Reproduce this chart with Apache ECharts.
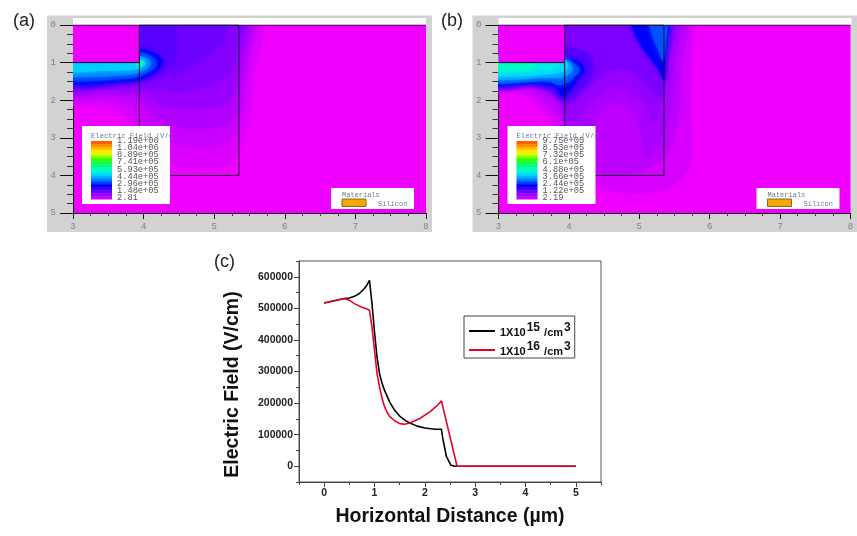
<!DOCTYPE html>
<html>
<head>
<meta charset="utf-8">
<title>Electric field</title>
<script src="https://cdn.jsdelivr.net/npm/echarts@6/dist/echarts.min.js"></script>
<style>
html, body { margin: 0; padding: 0; background: #fff; }
#chart { width: 857px; height: 536px; }
</style>
</head>
<body>
<div id="chart"></div>
<script>
/************* panel (c) data **************/
var seriesNames = ['1X10^15 /cm^3', '1X10^16 /cm^3'];
var blackX = [0, 0.2, 0.4, 0.5, 0.6, 0.7, 0.8, 0.85, 0.9, 0.95, 1.0, 1.05, 1.1, 1.15, 1.2, 1.3, 1.4, 1.5, 1.6, 1.7, 1.85, 2.0, 2.2, 2.33, 2.36, 2.43, 2.52, 2.6, 3, 4, 5];
var blackY = [517000, 524000, 531000, 533000, 538000, 547000, 563000, 574000, 589000, 515000, 425000, 346000, 293000, 263000, 240000, 204000, 177000, 159000, 146000, 137000, 127000, 121000, 117000, 117000, 85000, 30000, 3000, 0, 0, 0, 0];
var redX = [0, 0.2, 0.4, 0.5, 0.6, 0.7, 0.85, 0.9, 0.95, 1.0, 1.05, 1.1, 1.15, 1.2, 1.25, 1.3, 1.4, 1.5, 1.6, 1.7, 1.9, 2.1, 2.23, 2.33, 2.64, 3, 4, 5];
var redY = [517000, 524000, 531000, 526000, 515000, 507000, 498000, 494000, 441000, 367000, 293000, 251000, 215000, 188000, 171000, 158000, 144000, 135000, 133000, 137000, 151000, 172000, 190000, 207000, 0, 0, 0, 0];
var cTickX = [0, 1, 2, 3, 4, 5];
var cMinorX = [-0.5, 0.5, 1.5, 2.5, 3.5, 4.5, 5.5];
var cTickY = [0, 100000, 200000, 300000, 400000, 500000, 600000];
var cMinorY = [-50000, 50000, 150000, 250000, 350000, 450000, 550000, 650000];

/************* panels (a) (b) data **************/
var aLegendLabels = ['1.19e+06', '1.04e+06', '8.89e+05', '7.41e+05', '5.93e+05', '4.44e+05', '2.96e+05', '1.48e+05', '2.81'];
var bLegendLabels = ['9.75e+05', '8.53e+05', '7.32e+05', '6.1e+05', '4.88e+05', '3.66e+05', '2.44e+05', '1.22e+05', '2.19'];
var aFieldMax = 1190000;
var bFieldMax = 975000;

// structure outline, um
var outlineTop = [[3, 0], [8, 0]];
var outlineStep = [[3, 1], [3.94, 1]];
var outlineBox = [[3.94, 0], [5.35, 0], [5.35, 4], [3.94, 4], [3.94, 0]];
// oxide corner, stays at the background level
var oxideCorner = [[3, -0.3], [3.94, -0.3], [3.94, 1], [3, 1]];

// contour levels, V/cm, and their outlines in um
var aContourValues = [30000, 60000, 90000, 120000, 145000, 170000, 195000, 296000, 350000, 420000, 500000, 650000];
var aContourShapes = [
    [[2.8, 2.0], [3.4, 2.15], [3.8, 2.5], [3.94, 2.9], [4.1, 3.4], [4.6, 3.8], [5.2, 3.7], [5.45, 2.8], [5.55, 1.5], [5.58, -0.3], [2.8, -0.3]],
    [[2.8, 1.9], [3.5, 2.0], [3.9, 2.3], [4.1, 2.9], [4.6, 3.2], [5.2, 3.1], [5.4, 2.2], [5.48, 1], [5.5, -0.3], [2.8, -0.3]],
    [[2.8, 1.78], [3.5, 1.85], [3.94, 2.0], [4.2, 2.5], [4.7, 2.75], [5.25, 2.5], [5.38, 1.5], [5.42, -0.3], [2.8, -0.3]],
    [[2.8, 1.68], [3.5, 1.72], [3.94, 1.8], [4.3, 2.15], [4.8, 2.2], [5.2, 2.0], [5.36, 1.0], [5.38, -0.3], [2.8, -0.3]],
    [[2.8, 1.6], [3.6, 1.62], [4.0, 1.65], [4.4, 1.75], [4.85, 1.65], [5.15, 1.35], [5.3, 0.8], [5.35, -0.3], [2.8, -0.3]],
    [[2.8, 1.55], [3.94, 1.52], [4.35, 1.35], [4.7, 1.1], [5.0, 0.7], [5.15, 0.3], [5.2, -0.3], [2.8, -0.3]],
    [[2.8, 1.52], [3.94, 1.48], [4.3, 1.2], [4.45, 0.8], [4.45, 0.3], [4.4, -0.3], [2.8, -0.3]],
    [[2.8, 1.5], [3.8, 1.5], [4.0, 1.42], [4.2, 1.2], [4.27, 1.0], [4.2, 0.8], [4.0, 0.65], [3.85, 0.65], [2.8, 0.8]],
    [[2.8, 1.42], [3.8, 1.42], [4.0, 1.32], [4.18, 1.1], [4.15, 0.88], [4.0, 0.75], [3.85, 0.75], [2.8, 0.8]],
    [[2.8, 1.33], [3.8, 1.33], [4.0, 1.22], [4.1, 1.05], [4.05, 0.88], [3.85, 0.85], [2.8, 0.9]],
    [[2.8, 1.22], [3.5, 1.22], [3.9, 1.18], [4.03, 1.05], [3.98, 0.92], [2.8, 0.92]],
    [[3.9, 0.95], [4.0, 0.98], [3.98, 1.05], [3.9, 1.08]]
];
var bContourValues = [30000, 60000, 80000, 100000, 125000, 160000, 244000, 244000, 300000, 300000, 366000, 420000, 460000, 500000];
var bContourShapes = [
    [[2.8, 1.72], [3.3, 1.78], [3.6, 2.2], [3.85, 2.8], [3.94, 3.4], [4.1, 4.0], [4.6, 4.4], [5.3, 4.4], [5.7, 3.8], [5.72, 2], [5.75, 0], [5.75, -0.3], [2.8, -0.3]],
    [[2.8, 1.66], [3.4, 1.7], [3.7, 2.1], [3.95, 2.6], [4.05, 3.2], [4.3, 3.85], [4.9, 3.95], [5.35, 3.5], [5.55, 2.5], [5.6, 1], [5.62, -0.3], [2.8, -0.3]],
    [[2.8, 1.62], [3.45, 1.66], [3.85, 1.95], [3.95, 2.6], [4.05, 3.1], [4.2, 3.6], [4.35, 3.4], [4.35, 2.6], [4.6, 2.05], [4.95, 2.3], [5.05, 3.1], [5.1, 3.5], [5.33, 3.0], [5.45, 2], [5.5, 1], [5.52, -0.3], [2.8, -0.3]],
    [[2.8, 1.6], [3.5, 1.62], [3.85, 2.0], [4.0, 2.5], [4.12, 2.5], [4.3, 2.0], [4.65, 1.65], [5.05, 2.0], [5.2, 2.6], [5.38, 1.5], [5.44, 0.5], [5.46, -0.3], [2.8, -0.3]],
    [[2.8, 1.59], [3.55, 1.6], [3.85, 1.9], [4.0, 2.1], [4.3, 1.6], [4.6, 1.2], [4.85, 1.2], [5.1, 1.6], [5.3, 1.9], [5.38, 1.3], [5.4, -0.3], [2.8, -0.3]],
    [[2.8, 1.59], [3.5, 1.6], [3.8, 1.8], [3.9, 2.0], [4.0, 2.0], [4.25, 1.55], [4.35, 1.1], [4.2, 0.7], [3.9, 0.6], [2.8, 0.9]],
    [[2.8, 1.57], [3.5, 1.57], [3.8, 1.65], [3.9, 1.9], [3.97, 1.85], [4.1, 1.5], [4.22, 1.2], [4.12, 0.95], [3.9, 0.9], [2.8, 0.9]],
    [[4.88, -0.3], [4.95, 0.3], [5.1, 0.75], [5.28, 1.2], [5.35, 1.48], [5.37, 1.0], [5.38, -0.3]],
    [[2.8, 1.5], [3.7, 1.5], [3.88, 1.6], [4.0, 1.5], [4.15, 1.2], [4.05, 1.0], [3.9, 0.9], [2.8, 0.9]],
    [[5.14, -0.3], [5.18, 0.25], [5.28, 0.72], [5.33, 0.96], [5.36, 0.8], [5.38, -0.3]],
    [[2.8, 1.4], [3.7, 1.4], [3.9, 1.4], [4.05, 1.2], [3.98, 1], [2.8, 0.9]],
    [[2.8, 1.32], [3.8, 1.3], [3.98, 1.15], [3.92, 0.9], [2.8, 0.9]],
    [[2.8, 1.22], [3.6, 1.22], [3.85, 1.1], [3.8, 0.9], [2.8, 0.9]],
    [[2.8, 1.15], [3.3, 1.18], [3.5, 1.1], [3.4, 0.9], [2.8, 0.9]]
];

/************* colours **************/
var rampStops = [0, 0.06, 0.125, 0.2, 0.25, 0.33, 0.42, 0.5, 0.6, 0.68, 0.8, 0.9, 1];
var rampColors = ['#F000FF', '#C000FF', '#8000FF', '#3000FF', '#0000F8', '#0070FF', '#00D0FF', '#00FFD0', '#00FF70', '#30FF00', '#FFFF00', '#FFA000', '#FF4000'];

function fieldColor(frac) {
    for (var i = 1; i < rampStops.length; i++) {
        if (frac <= rampStops[i]) {
            var t = (frac - rampStops[i - 1]) / (rampStops[i] - rampStops[i - 1]);
            return echarts.color.lerp(t, [rampColors[i - 1], rampColors[i]]);
        }
    }
    return rampColors[rampColors.length - 1];
}

function zip(xs, ys) {
    return xs.map(function (x, i) { return [x, ys[i]]; });
}

/************* panel helpers **************/
function contourSeries(gridIndex, values, shapes, fieldMax) {
    var allShapes = shapes.concat([oxideCorner]);
    var allValues = values.concat([0]);
    return {
        type: 'custom',
        xAxisIndex: gridIndex,
        yAxisIndex: gridIndex,
        clip: true,
        silent: true,
        data: allShapes.map(function (pts, i) { return [pts[0][0], pts[0][1], allValues[i]]; }),
        renderItem: function (params, api) {
            var i = params.dataIndex;
            var pts = allShapes[i].map(function (p) { return api.coord(p); });
            var col = fieldColor(allValues[i] / fieldMax);
            var sharp = allValues[i] === 0;
            return {
                type: 'polygon',
                shape: { points: pts, smooth: sharp ? 0 : 0.35 },
                style: { fill: sharp ? '#F000FF' : col, shadowBlur: sharp ? 0 : 5, shadowColor: col }
            };
        }
    };
}

function outlineSeries(gridIndex, pts) {
    return {
        type: 'line',
        xAxisIndex: gridIndex,
        yAxisIndex: gridIndex,
        data: pts,
        symbol: 'none',
        silent: true,
        lineStyle: { color: '#1a0a30', width: 1 },
        z: 5
    };
}

function panelText(x, y, text, size, color) {
    return {
        type: 'text', x: x, y: y, z: 20, silent: true,
        style: { text: text, fontFamily: 'Liberation Mono', fontSize: size, fill: color, textVerticalAlign: 'middle' }
    };
}

// gray surround, white strip, colour key and materials key of one TCAD panel
function panelGraphics(ox, right, labels, title) {
    var els = [
        { type: 'rect', z: -1, silent: true, shape: { x: 47 + ox, y: 15.5, width: right - 47 - ox, height: 216.5 }, style: { fill: '#D2D2D2' } },
        { type: 'rect', z: 1, silent: true, shape: { x: 73 + ox, y: 18, width: 353, height: 7 }, style: { fill: '#fff' } },
        { type: 'rect', z: 10, silent: true, shape: { x: 82 + ox, y: 126, width: 88, height: 78 }, style: { fill: '#fff' } },
        panelText(91 + ox, 136, 'Electric Field (V/c', 7.2, '#6A7A95'),
        { type: 'rect', z: 10, silent: true, shape: { x: 331 + ox, y: 188, width: 83, height: 21 }, style: { fill: '#fff' } },
        panelText(342 + ox, 195, 'Materials', 7, '#6A7A95'),
        panelText(378 + ox, 204, 'Silicon', 7, '#6A7A95'),
        { type: 'rect', z: 11, silent: true, shape: { x: 342 + ox, y: 199, width: 24, height: 7.5 }, style: { fill: '#F5A800', stroke: '#8a6a20', lineWidth: 1 } }
    ];
    var strips = 20;
    for (var i = 0; i < strips; i++) {
        els.push({
            type: 'rect', z: 11, silent: true,
            shape: { x: 91 + ox, y: 141 + i * 58 / strips, width: 21, height: 58 / strips + 0.5 },
            style: { fill: fieldColor(0.97 - i * 0.92 / (strips - 1)) }
        });
    }
    labels.forEach(function (lab, i) {
        els.push(panelText(117 + ox, 140.5 + i * 7.2, lab, 8.7, '#555'));
    });
    els.push({
        type: 'text', x: (ox ? 441 : 13), y: 21, z: 20, silent: true,
        style: { text: title, fontFamily: 'Liberation Sans', fontSize: 18, fill: '#222', textVerticalAlign: 'middle' }
    });
    return els;
}

function panelXAxis(gridIndex) {
    return {
        type: 'value', gridIndex: gridIndex, min: 3, max: 8, interval: 1, position: 'bottom',
        axisLine: { show: true, onZero: false, lineStyle: { color: '#111', width: 1 } },
        axisTick: { show: true, length: 6, lineStyle: { color: '#111' } },
        minorTick: { show: true, splitNumber: 4, length: 3, lineStyle: { color: '#333' } },
        axisLabel: { color: '#808080', fontFamily: 'Liberation Mono', fontSize: 9, margin: 9 },
        splitLine: { show: false }
    };
}

function panelYAxis(gridIndex) {
    return {
        type: 'value', gridIndex: gridIndex, min: 0, max: 5, interval: 1, inverse: true, position: 'left',
        axisLine: { show: true, onZero: false, lineStyle: { color: '#111', width: 1 } },
        axisTick: { show: true, length: 13, lineStyle: { color: '#111' } },
        minorTick: { show: true, splitNumber: 4, length: 6, lineStyle: { color: '#333' } },
        axisLabel: { color: '#808080', fontFamily: 'Liberation Mono', fontSize: 9, margin: 17 },
        splitLine: { show: false }
    };
}

/************* chart **************/
var chart = echarts.init(document.getElementById('chart'));

var tickFont = { color: '#222', fontFamily: 'Liberation Sans', fontWeight: 'bold', fontSize: 10.5 };
var nameFont = { color: '#111', fontFamily: 'Liberation Sans', fontWeight: 'bold', fontSize: 19.5 };

function plainNumber(v) {
    return String(v);
}

var option = {
    animation: false,
    backgroundColor: '#fff',
    grid: [
        { left: 73, top: 25, width: 353, height: 188, show: true, backgroundColor: '#F000FF', borderWidth: 0 },
        { left: 498.5, top: 25, width: 352, height: 188, show: true, backgroundColor: '#F000FF', borderWidth: 0 },
        { left: 299, top: 261, width: 302, height: 221, show: true, backgroundColor: '#fff', borderColor: '#555', borderWidth: 1 }
    ],
    xAxis: [
        panelXAxis(0),
        panelXAxis(1),
        {
            type: 'value', gridIndex: 2, min: -0.5, max: 5.5, position: 'bottom',
            name: 'Horizontal Distance (µm)', nameLocation: 'middle', nameGap: 25, nameTextStyle: nameFont,
            axisLine: { show: true, onZero: false, lineStyle: { color: '#444' } },
            axisTick: { show: true, length: 5, customValues: cTickX, lineStyle: { color: '#444' } },
            axisLabel: Object.assign({ customValues: cTickX, margin: 6, formatter: plainNumber }, tickFont),
            splitLine: { show: false }
        },
        {
            type: 'value', gridIndex: 2, min: -0.5, max: 5.5, position: 'bottom',
            axisLine: { show: false, onZero: false },
            axisTick: { show: true, length: 3, customValues: cMinorX, lineStyle: { color: '#444' } },
            axisLabel: { show: false },
            splitLine: { show: false }
        }
    ],
    yAxis: [
        panelYAxis(0),
        panelYAxis(1),
        {
            type: 'value', gridIndex: 2, min: -50000, max: 650000, position: 'left',
            name: 'Electric Field (V/cm)', nameLocation: 'middle', nameGap: 56,
            nameTextStyle: Object.assign({ padding: [0, 26, 0, 0] }, nameFont),
            axisLine: { show: true, onZero: false, lineStyle: { color: '#444' } },
            axisTick: { show: true, length: 5, customValues: cTickY, lineStyle: { color: '#444' } },
            axisLabel: Object.assign({ customValues: cTickY, margin: 6, formatter: plainNumber }, tickFont),
            splitLine: { show: false }
        },
        {
            type: 'value', gridIndex: 2, min: -50000, max: 650000, position: 'left',
            axisLine: { show: false, onZero: false },
            axisTick: { show: true, length: 3, customValues: cMinorY, lineStyle: { color: '#444' } },
            axisLabel: { show: false },
            splitLine: { show: false }
        }
    ],
    legend: {
        left: 464, top: 316, orient: 'vertical',
        padding: [6, 4, 1, 5], itemGap: 3, itemWidth: 26, itemHeight: 14,
        borderColor: '#444', borderWidth: 1, backgroundColor: '#fff',
        icon: 'path://M0,6 L26,6 L26,8 L0,8 Z',
        data: seriesNames,
        formatter: function (name) {
            var parts = name.split('^');
            return '{a|' + parts[0] + '}{s|' + parts[1].split(' ')[0] + '}{a| ' + parts[1].split(' ')[1] + '}{s|' + parts[2] + '}';
        },
        textStyle: {
            rich: {
                a: { fontFamily: 'Liberation Sans', fontWeight: 'bold', fontSize: 11, color: '#111', padding: [3, 0, 0, 0] },
                s: { fontFamily: 'Liberation Sans', fontWeight: 'bold', fontSize: 12, color: '#111', padding: [0, 1, 6, 1] }
            }
        }
    },
    series: [
        contourSeries(0, aContourValues, aContourShapes, aFieldMax),
        outlineSeries(0, outlineTop), outlineSeries(0, outlineStep), outlineSeries(0, outlineBox),
        contourSeries(1, bContourValues, bContourShapes, bFieldMax),
        outlineSeries(1, outlineTop), outlineSeries(1, outlineStep), outlineSeries(1, outlineBox),
        {
            name: seriesNames[0], type: 'line', xAxisIndex: 2, yAxisIndex: 2,
            data: zip(blackX, blackY), symbol: 'none', itemStyle: { color: '#000' },
            lineStyle: { color: '#000', width: 1.6 }, z: 3
        },
        {
            name: seriesNames[1], type: 'line', xAxisIndex: 2, yAxisIndex: 2,
            data: zip(redX, redY), symbol: 'none', itemStyle: { color: '#E8002A' },
            lineStyle: { color: '#E8002A', width: 1.6 }, z: 4
        }
    ],
    graphic: {
        elements: panelGraphics(0, 432, aLegendLabels, '(a)')
            .concat(panelGraphics(425.5, 857, bLegendLabels, '(b)'))
            .concat([{
                type: 'text', x: 214, y: 262, z: 20, silent: true,
                style: { text: '(c)', fontFamily: 'Liberation Sans', fontSize: 18, fill: '#222', textVerticalAlign: 'middle' }
            }])
    }
};

chart.setOption(option);
</script>
</body>
</html>
